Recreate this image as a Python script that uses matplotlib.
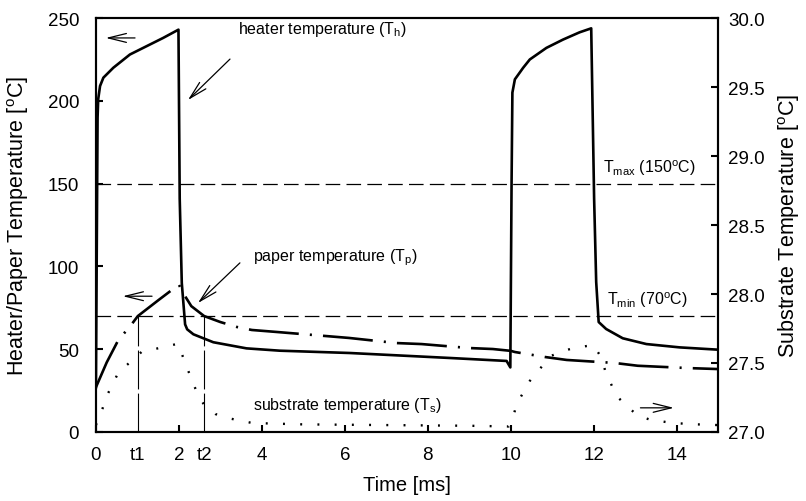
import numpy as np
import matplotlib
matplotlib.use("Agg")
import matplotlib.pyplot as plt

plt.rcParams['font.family'] = ['Liberation Sans', 'DejaVu Sans']
plt.rcParams['mathtext.fontset'] = 'custom'
plt.rcParams['mathtext.rm'] = 'Liberation Sans'
plt.rcParams['mathtext.it'] = 'Liberation Sans:italic'
plt.rcParams['lines.scale_dashes'] = False

# heater temperature T_h (left axis, degC)
heater_t = [0.0, 0.04, 0.055, 0.1, 0.18, 0.42, 0.82, 1.22, 1.62, 1.99, 2.02, 2.07, 2.15,
            2.2, 2.35, 2.83, 3.63, 4.43, 6.12, 8.53, 9.9, 9.99, 10.02, 10.04, 10.1, 10.3,
            10.46, 10.86, 11.26, 11.66, 11.94, 12.01, 12.06, 12.12, 12.3, 12.7, 13.27,
            14.07, 15.0]
heater_T = [27, 190, 201, 209, 214, 220, 228, 233, 238, 243, 141, 90, 65,
            62, 59, 54.2, 50.5, 49.1, 47.7, 44.7, 42.9, 39, 150, 205, 213, 220,
            225, 232, 237, 241.4, 243.8, 141, 90.6, 66.4, 62.2, 56.6, 53.1,
            51.1, 49.7]

# paper temperature T_p (left axis, degC)
paper_t = [0.0, 0.26, 0.55, 0.8, 1.01, 1.5, 2.0, 2.1, 2.3, 2.61, 3.0, 3.4, 3.76, 4.36,
           5.52, 6.1, 7.25, 7.85, 9.0, 9.57, 10.0, 10.1, 10.82, 11.35, 12.5, 13.06,
           14.27, 15.0]
paper_T = [27, 42, 56, 63, 70, 79.5, 89, 84, 76, 70, 66.4, 63.4, 61.6, 60.4,
           58, 56.8, 53.7, 53.1, 50.7, 50.1, 49, 48.3, 45.3, 43.5, 41.7, 40,
           38.6, 38]

# substrate temperature T_s (right axis, degC)
sub_t = [0.0, 0.16, 0.26, 0.54, 1.1, 1.7, 1.98, 2.19, 2.43, 2.6, 2.88, 3.19, 3.77, 5.0,
         7.0, 9.0, 9.95, 10.06, 10.14, 10.46, 10.96, 11.25, 11.53, 12.0, 12.2, 12.28,
         12.55, 13.05, 13.35, 13.9, 14.5, 15.0]
sub_T = [27.05, 27.17, 27.26, 27.43, 27.58, 27.62, 27.64, 27.47, 27.29, 27.2, 27.13,
         27.1, 27.065, 27.055, 27.05, 27.045, 27.04, 27.11, 27.2, 27.37, 27.55, 27.585,
         27.61, 27.63, 27.53, 27.44, 27.26, 27.12, 27.09, 27.065, 27.055, 27.05]

T_max = 150
T_min = 70
t_marks = [1.01, 2.61]
t_mark_labels = ['t1', 't2']
x_ticks = [0, 2, 4, 6, 8, 10, 12, 14]

fig = plt.figure(figsize=(8.06, 5.02), dpi=100)
ax = fig.add_axes([0.119, 0.1375, 0.772, 0.8245])
ax2 = ax.twinx()

ax.plot(heater_t, heater_T, color='black', lw=1.9)
ax.plot(paper_t, paper_T, color='black', lw=1.9, ls=(0, (36, 8, 1.5, 8)))
ax2.plot(sub_t, sub_T, color='black', lw=1.7, ls=(0, (1.4, 11)))

ax.axhline(T_max, color='black', lw=0.9, ls=(0, (10.5, 4.5)))
ax.axhline(T_min, color='black', lw=0.9, ls=(0, (10.5, 4.5)))
ax.vlines(t_marks, 0, T_min, color='black', lw=0.8, ls=(0, (28, 3)))

ax.set_xlim(0, 15)
ax.set_ylim(0, 250)
ax2.set_ylim(27, 30)
ax.set_xticks(x_ticks)
ax.set_xticks(t_marks, minor=True)
ax.set_xticklabels(t_mark_labels, minor=True)
ax.set_yticks([0, 50, 100, 150, 200, 250])
ax2.set_yticks([27.0, 27.5, 28.0, 28.5, 29.0, 29.5, 30.0])
ax2.set_yticklabels(['27.0', '27.5', '28.0', '28.5', '29.0', '29.5', '30.0'])

ax.tick_params(axis='x', which='major', direction='in', length=5, width=1.5, labelsize=13.5, pad=10)
ax.tick_params(axis='x', which='minor', length=0, labelsize=13.5, pad=10)
ax.tick_params(axis='y', direction='in', length=5, width=1.5, labelsize=13.5, pad=12)
ax2.tick_params(axis='y', direction='in', length=5, width=1.5, labelsize=13.5, pad=7)
for a in (ax, ax2):
    for s in a.spines.values():
        s.set_linewidth(1.5)

ax.set_xlabel('Time [ms]', fontsize=14.5)
ax.set_ylabel(r'Heater/Paper Temperature [$^{\rm o}$C]', fontsize=15.5)
ax2.set_ylabel(r'Substrate Temperature [$^{\rm o}$C]', fontsize=15.5)
ax.xaxis.set_label_coords(0.5, -0.105)
ax.yaxis.set_label_coords(-0.104, 0.5)
ax2.yaxis.set_label_coords(1.094, 0.5)

arrow = dict(arrowstyle='->,head_length=1.3,head_width=0.32', color='black', lw=0.9)
ax.annotate('', xy=(0.17, 238), xytext=(1.01, 238), arrowprops=arrow)
ax.annotate('', xy=(0.58, 82), xytext=(1.42, 82), arrowprops=arrow)
ax2.annotate('', xy=(14.0, 27.175), xytext=(13.06, 27.175), arrowprops=arrow)
ax.annotate('', xy=(2.17, 199.3), xytext=(3.28, 226.4), arrowprops=arrow)
ax.annotate('', xy=(2.41, 76.7), xytext=(3.52, 103.3), arrowprops=arrow)

ax.text(3.42, 243.5, r'heater temperature (T$_{\rm h}$)', fontsize=11.5, va='center')
ax.text(3.78, 105.7, r'paper temperature (T$_{\rm p}$)', fontsize=11.5, va='center')
ax.text(3.78, 16.3, r'substrate temperature (T$_{\rm s}$)', fontsize=11.5, va='center')
ax.text(12.22, 160, r'T$_{\rm max}$ (150$^{\rm o}$C)', fontsize=11.5, va='center')
ax.text(12.31, 80.3, r'T$_{\rm min}$ (70$^{\rm o}$C)', fontsize=11.5, va='center')

fig.savefig('out.png', dpi=100)
